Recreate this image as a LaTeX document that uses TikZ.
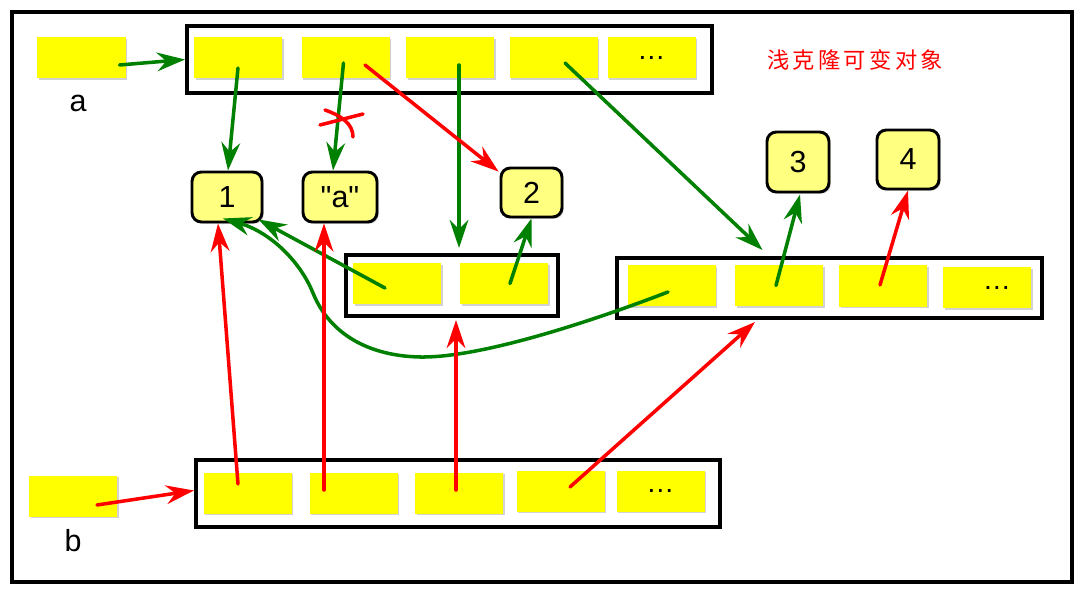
\documentclass[tikz,border=0pt]{standalone}
\usepackage{fontspec}
\setmainfont{Liberation Sans}
\newfontfamily\plainsans{Liberation Sans}
\newfontfamily\cjk{Noto Sans CJK SC}[LetterSpace=15]
\usetikzlibrary{arrows.meta,shadows}
\definecolor{dgreen}{RGB}{0,128,0}
\definecolor{cellyel}{RGB}{255,255,0}
\definecolor{valyel}{RGB}{255,255,128}
\begin{document}
\begin{tikzpicture}[x=0.03cm,y=-0.03cm,
  shad/.style={drop shadow={shadow xshift=1.5pt,shadow yshift=-1.5pt,opacity=0.35}},
  cell/.style={shape=rectangle,fill=cellyel,inner sep=0pt,minimum width=2.64cm,minimum height=1.23cm,shad,font=\fontsize{24}{28}\selectfont},
  listbox/.style={shape=rectangle,draw=black,fill=white,line width=3.4pt,inner sep=0pt,shad},
  val/.style={shape=rectangle,rounded corners=8pt,draw=black,fill=valyel,line width=2.5pt,inner sep=0pt,shad,font=\plainsans\fontsize{26}{28}\selectfont},
  lbl/.style={font=\fontsize{26}{28}\selectfont,inner sep=0pt},
  arr/.style={line width=3pt,line cap=round,-{Stealth[length=24pt,width=16pt,inset=8pt]}},
  g/.style={arr,draw=dgreen},
  r/.style={arr,draw=red},
  crossline/.style={draw=red,line width=3pt,line cap=round}
]
\useasboundingbox (0,0) rectangle (1082,597);
% outer frame
\draw[line width=4pt,fill=white,drop shadow={shadow xshift=2pt,shadow yshift=-2pt,opacity=0.3}] (12,12) rectangle (1072,582);

% list boxes
\node[listbox,minimum width=15.75cm,minimum height=2.01cm] (abox) at (449.5,59.5) {};
\node[listbox,minimum width=6.36cm,minimum height=1.83cm] (mb) at (452,285.5) {};
\node[listbox,minimum width=12.75cm,minimum height=1.8cm] (rb) at (829.5,288) {};
\node[listbox,minimum width=15.72cm,minimum height=2.01cm] (bb) at (458,493.5) {};

% variable cells
\node[cell] (av) at (81.5,58) {};
\node[cell] (bv) at (73,496) {};
\node[lbl] (la) at (78,103) {a};
\node[lbl] (lb) at (73,541) {b};

% a list cells
\node[cell] (ac1) at (238,58) {};
\node[cell] (ac2) at (345.5,58) {};
\node[cell] (ac3) at (450,58) {};
\node[cell] (ac4) at (553.5,58) {};
\node[cell] (ac5) at (651.5,58) {…};

% middle list
\node[cell] (mc1) at (397,283.5) {};
\node[cell] (mc2) at (504,283.5) {};

% right list
\node[cell] (rc1) at (671.5,285.5) {};
\node[cell] (rc2) at (779,285.5) {};
\node[cell] (rc3) at (883,286) {};
\node[cell] (rc4) at (987,287.5) {\hspace*{0.6cm}…};

% b list cells
\node[cell] (bc1) at (247.5,493) {};
\node[cell] (bc2) at (353.5,493) {};
\node[cell] (bc3) at (459,493) {};
\node[cell] (bc4) at (560.5,491) {};
\node[cell] (bc5) at (660.5,491) {…};

% value nodes
\node[val,minimum width=2.1cm,minimum height=1.5cm] (n1) at (227,197) {1};
\node[val,minimum width=2.22cm,minimum height=1.5cm] (qa) at (340,197) {"a"};
\node[val,minimum width=1.83cm,minimum height=1.47cm] (n2) at (531.5,192.5) {2};
\node[val,minimum width=1.86cm,minimum height=1.8cm] (n3) at (798,162) {3};
\node[val,minimum width=1.86cm,minimum height=1.77cm] (n4) at (908,159.5) {4};

% title
\node[text=red,inner sep=0pt,font=\cjk\fontsize{19}{22}\selectfont] (title) at (855,60) {浅克隆可变对象};

% green arrows
\draw[g] ([shift={(38,7)}]av.center) -- (abox.west);
\draw[g] ([shift={(0,10)}]ac1.center) -- ([shift={(1,0)}]n1.north);
\draw[g] ([shift={(-2,5)}]ac2.center) -- ([shift={(-7,0)}]qa.north);
\draw[g] ([shift={(9,7)}]ac3.center) -- ([shift={(7,-5)}]mb.north);
\draw[g] ([shift={(11.5,5)}]ac4.center) -- ([shift={(-67,-6)}]rb.north);
\draw[g] ([shift={(-12,4.5)}]mc1.center) -- ([shift={(-5,-4)}]n1.south east);
\draw[g] ([shift={(-3.5,6.5)}]rc1.center) .. controls (590,322) and (480,358) .. (420,357)
  .. controls (370,356) and (330,335) .. (313,293)
  .. controls (300,261) and (270,232) .. ([shift={(-4,-5)}]n1.south);
\draw[g] ([shift={(6,0)}]mc2.center) -- (n2.south);
\draw[g] ([shift={(-3,0)}]rc2.center) -- ([shift={(2,1)}]n3.south);

% red arrows
\draw[r] ([shift={(19.5,7)}]ac2.center) -- ([shift={(-1,5)}]n2.north west);
\draw[r] ([shift={(-3,-1)}]rc3.center) -- (n4.south);
\draw[r] ([shift={(24,9)}]bv.center) -- ([shift={(0,-3)}]bb.west);
\draw[r] ([shift={(-9.5,-9)}]bc1.center) -- ([shift={(-9,0)}]n1.south);
\draw[r] ([shift={(-29.5,-3)}]bc2.center) -- ([shift={(-16,0)}]qa.south);
\draw[r] ([shift={(-3,-3)}]bc3.center) -- ([shift={(4,2)}]mb.south);
\draw[r] ([shift={(9.5,-4)}]bc4.center) -- ([shift={(-74.5,2)}]rb.south);

% cross mark
\draw[crossline] (320,125) -- (363,114);
\draw[crossline] (325,110) .. controls (342,116) and (353,124) .. (353,137);
\end{tikzpicture}
\end{document}
